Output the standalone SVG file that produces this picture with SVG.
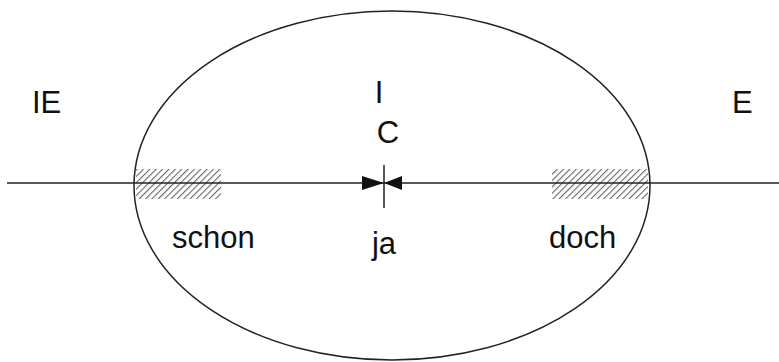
<svg xmlns="http://www.w3.org/2000/svg" width="779" height="362" viewBox="0 0 779 362">
<style>
.t{font-family:"Liberation Sans",Arial,sans-serif;font-size:31px;fill:#111}
.ln{stroke:#222;stroke-width:1.5;fill:none}
</style>
<defs>
<pattern id="hatch" patternUnits="userSpaceOnUse" width="4.5" height="4.5" patternTransform="rotate(45)">
<line x1="0" y1="0" x2="0" y2="4.5" stroke="#666" stroke-width="2.2"/>
</pattern>
</defs>
<g id="ellipse"><ellipse class="ln" cx="392" cy="185.5" rx="258" ry="174.5"/></g>
<g id="hatch-left"><rect x="136" y="169" width="85" height="30" fill="url(#hatch)"/></g>
<g id="hatch-right"><rect x="552" y="169" width="96" height="30" fill="url(#hatch)"/></g>
<g id="connectors">
<line class="ln" x1="7" y1="183" x2="779" y2="183"/>
<line class="ln" x1="384" y1="165" x2="384" y2="208"/>
<polygon points="362,176 384,183 362,190" fill="#111"/>
<polygon points="402,176 384,183 402,190" fill="#111"/>
</g>
<g id="labels">
<text class="t" x="32" y="113">IE</text>
<text class="t" x="732" y="113">E</text>
<text class="t" x="379" y="103" text-anchor="middle">I</text>
<text class="t" x="388" y="143" text-anchor="middle">C</text>
<text class="t" x="172" y="248">schon</text>
<text class="t" x="384" y="254" text-anchor="middle">ja</text>
<text class="t" x="549" y="248">doch</text>
</g>
</svg>
